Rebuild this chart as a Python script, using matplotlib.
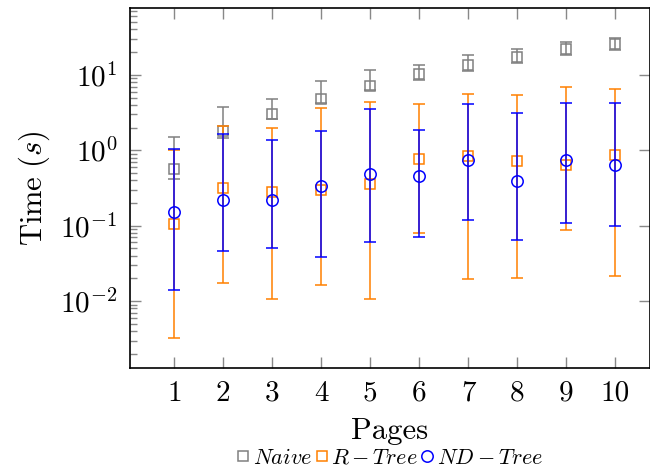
import matplotlib
matplotlib.use("Agg")
import matplotlib.pyplot as plt
from matplotlib import rcParams
from matplotlib.ticker import LogLocator, NullFormatter, FixedLocator
import numpy as np

rcParams["mathtext.fontset"] = "cm"
rcParams["font.family"] = "serif"
rcParams["font.serif"] = ["cmr10"]
rcParams["axes.formatter.use_mathtext"] = True

pages = [1, 2, 3, 4, 5, 6, 7, 8, 9, 10]

# mean time with min / max over runs (seconds)
naive = [0.56, 1.81, 3.0, 4.81, 7.2, 10.3, 13.7, 17.2, 21.9, 25.8]
naive_lo = [0.42, 1.45, 2.59, 4.22, 6.3, 8.6, 11.4, 14.3, 18.2, 21.4]
naive_hi = [1.50, 3.8, 4.85, 8.26, 11.7, 13.7, 18.2, 21.9, 27.4, 31.0]

rtree = [0.104, 0.315, 0.284, 0.294, 0.36, 0.764, 0.853, 0.72, 0.643, 0.87]
rtree_lo = [0.0032, 0.0174, 0.0106, 0.0164, 0.0108, 0.080, 0.0197, 0.0203, 0.0867, 0.0216]
rtree_hi = [1.02, 2.07, 2.0, 3.69, 4.43, 4.13, 5.65, 5.48, 7.0, 6.46]

ndtree = [0.15, 0.22, 0.22, 0.339, 0.478, 0.46, 0.75, 0.386, 0.733, 0.629]
ndtree_lo = [0.0142, 0.0457, 0.050, 0.039, 0.0608, 0.070, 0.12, 0.065, 0.107, 0.098]
ndtree_hi = [1.04, 1.64, 1.39, 1.78, 3.58, 1.87, 4.09, 3.17, 4.3, 4.3]

series = [
    (r"$Naive$", naive, naive_lo, naive_hi, "#808080", "s"),
    (r"$R-Tree$", rtree, rtree_lo, rtree_hi, "#ff8000", "s"),
    (r"$ND-Tree$", ndtree, ndtree_lo, ndtree_hi, "#0000ff", "o"),
]

fig = plt.figure(figsize=(6.5, 4.7), dpi=100)
ax = fig.add_axes([0.2, 0.217, 0.8, 0.766])

handles = []
for label, y, lo, hi, color, marker in series:
    y = np.array(y)
    err = [y - np.array(lo), np.array(hi) - y]
    ax.errorbar(pages, y, yerr=err, fmt="none", ecolor=color, elinewidth=1.1,
                capsize=4, capthick=1.1)
    h, = ax.plot(pages, y, linestyle="none", marker=marker, markersize=7.3 if marker == "s" else 8.2,
                 markerfacecolor="none", markeredgecolor=color, markeredgewidth=1.1, label=label)
    handles.append(h)

ax.set_yscale("log")
ax.set_ylim(10 ** -2.887, 10 ** 1.887)
ax.set_xlim(0.096, 10.71)

ax.xaxis.set_major_locator(FixedLocator(pages))
ax.set_xticklabels([str(p) for p in pages])
ax.yaxis.set_major_locator(FixedLocator([1e-2, 1e-1, 1e0, 1e1]))
ax.set_yticklabels([r"$10^{-2}$", r"$10^{-1}$", r"$10^{0}$", r"$10^{1}$"])
ax.yaxis.set_minor_locator(LogLocator(base=10, subs=np.arange(2, 10), numticks=20))
ax.yaxis.set_minor_formatter(NullFormatter())

ax.tick_params(axis="both", which="major", direction="in", length=8, width=1,
               color="#888888", labelsize=21, top=True, right=True)
ax.tick_params(axis="x", which="major", pad=9)
ax.tick_params(axis="y", which="major", pad=9)
ax.tick_params(axis="y", which="minor", direction="in", length=5, width=1,
               color="#888888", left=True, right=False)
for s in ax.spines.values():
    s.set_linewidth(1.2)

ax.set_xlabel("Pages", fontsize=22, labelpad=8)
ax.set_ylabel(r"$\mathrm{Time}\ (s)$", fontsize=22, labelpad=6)

fig.legend(handles=handles, loc="center", bbox_to_anchor=(0.6, 0.026), ncol=3,
           frameon=False, fontsize=16, handlelength=0.55, handletextpad=0.15,
           columnspacing=0.15, borderpad=0, markerscale=1.0)

fig.savefig("out.png", dpi=100)
